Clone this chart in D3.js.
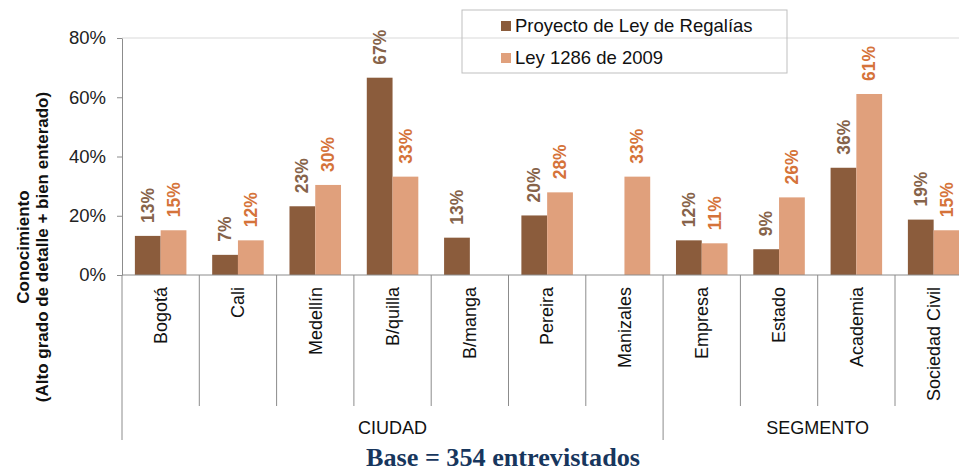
<!DOCTYPE html>
<html>
<head>
<meta charset="utf-8">
<script src="https://cdn.jsdelivr.net/npm/d3@7"></script>
<style>
    body { margin: 0; background: #fff; }
    svg { display: block; font-family: "Liberation Sans", Arial, sans-serif; }
</style>
</head>
<body>
<div class="vis-chart"></div>
<script>
// datos
const categories = ["Bogotá", "Cali", "Medellín", "B/quilla", "B/manga", "Pereira", "Manizales",
    "Empresa", "Estado", "Academia", "Sociedad Civil"];
const seriesNames = ["Proyecto de Ley de Regalías", "Ley 1286 de 2009"];
const proyecto = [13.2, 6.8, 23.2, 66.6, 12.6, 20.1, null, 11.7, 8.7, 36.2, 18.7];
const ley1286 = [15.1, 11.7, 30.4, 33.2, null, 27.9, 33.2, 10.7, 26.2, 61.1, 15.1];
const groups = [{ name: "CIUDAD", count: 7 }, { name: "SEGMENTO", count: 4 }];
const yTicks = [0, 20, 40, 60, 80];
const yTitle = ["Conocimiento", "(Alto grado de detalle + bien enterado)"];
const baseText = "Base = 354 entrevistados";

const width = 959;
const height = 472;
const margin = { top: 38, left: 122, bottom: 197 };
const step = 77.3;   // ancho de cada categoría
const barColors = ["#8b5c3c", "#e0a07c"];
const labelColors = ["#86634a", "#d5733a"];
const axisColor = "#8c8c8c";

const svg = d3.select(".vis-chart")
    .append("svg")
    .attr("width", width)
    .attr("height", height);

const x = d3.scaleBand()
    .domain(categories)
    .range([margin.left, margin.left + step * categories.length])
    .paddingInner(0);

const x1 = d3.scaleBand()
    .domain([0, 1])
    .range([0, x.bandwidth()])
    .paddingOuter(0.5)
    .paddingInner(0);

const y = d3.scaleLinear()
    .domain([0, 80])
    .range([height - margin.bottom, margin.top]);

const y0 = y(0);

// línea superior (80%)
svg.append("line")
    .attr("x1", margin.left)
    .attr("x2", width)
    .attr("y1", y(80))
    .attr("y2", y(80))
    .attr("stroke", "#d9d9d9")
    .attr("stroke-width", 1);

// eje y
const yAxis = svg.append("g")
    .attr("transform", "translate(" + margin.left + ",0)")
    .call(d3.axisLeft(y).tickValues(yTicks).tickFormat(d => d + "%").tickSize(5).tickSizeOuter(0));
yAxis.select(".domain").attr("stroke", axisColor);
yAxis.selectAll(".tick line").attr("stroke", axisColor);
yAxis.selectAll(".tick text")
    .attr("x", -16)
    .attr("font-size", 18.5)
    .attr("font-family", "Liberation Sans, Arial, sans-serif")
    .attr("fill", "#222");

// barras
const data = categories.map((c, i) => ({ cat: c, values: [proyecto[i], ley1286[i]] }));

const catG = svg.append("g")
    .selectAll("g")
    .data(data)
    .enter()
    .append("g")
    .attr("transform", d => "translate(" + x(d.cat) + ",0)");

catG.selectAll("rect")
    .data(d => d.values.map((v, s) => ({ v: v, s: s })).filter(e => e.v !== null))
    .enter()
    .append("rect")
    .attr("x", d => x1(d.s))
    .attr("y", d => y(d.v))
    .attr("width", x1.bandwidth())
    .attr("height", d => y0 - y(d.v))
    .attr("fill", d => barColors[d.s]);

// etiquetas de valores (rotadas)
catG.selectAll("text.valueText")
    .data(d => d.values.map((v, s) => ({ v: v, s: s })).filter(e => e.v !== null))
    .enter()
    .append("text")
    .attr("class", "valueText")
    .attr("transform", d => "translate(" + (x1(d.s) + x1.bandwidth() / 2) + "," + (y(d.v) - 13) + ") rotate(-90)")
    .attr("dy", "0.35em")
    .attr("text-anchor", "start")
    .attr("font-size", 17.5)
    .attr("font-weight", "bold")
    .attr("fill", d => labelColors[d.s])
    .text(d => Math.round(d.v) + "%");

// eje x
svg.append("line")
    .attr("x1", margin.left)
    .attr("x2", width)
    .attr("y1", y0)
    .attr("y2", y0)
    .attr("stroke", axisColor);

// separadores de categorías
let groupStarts = [];
let acc = 0;
groups.forEach(g => { groupStarts.push(acc); acc += g.count; });

categories.forEach((c, i) => {
    if (i === 0) return;
    const isGroupEdge = groupStarts.indexOf(i) >= 0;
    svg.append("line")
        .attr("x1", x(c))
        .attr("x2", x(c))
        .attr("y1", y0)
        .attr("y2", isGroupEdge ? 440 : 406)
        .attr("stroke", axisColor);
});
svg.append("line")
    .attr("x1", margin.left)
    .attr("x2", margin.left)
    .attr("y1", y0)
    .attr("y2", 440)
    .attr("stroke", axisColor);

// nombres de categorías
svg.append("g")
    .selectAll("text")
    .data(categories)
    .enter()
    .append("text")
    .attr("transform", d => "translate(" + (x(d) + x.bandwidth() / 2) + "," + (y0 + 12) + ") rotate(-90)")
    .attr("dy", "0.35em")
    .attr("text-anchor", "end")
    .attr("font-size", 18)
    .attr("fill", "#111")
    .text(d => d);

// nombres de grupos
groups.forEach((g, i) => {
    const first = categories[groupStarts[i]];
    const gx = x(first) + step * g.count / 2;
    svg.append("text")
        .attr("x", gx)
        .attr("y", 434)
        .attr("text-anchor", "middle")
        .attr("font-size", 18)
        .attr("fill", "#111")
        .text(g.name);
});

// título del eje y
const titleY = 247;
yTitle.forEach((t, i) => {
    svg.append("text")
        .attr("transform", "translate(" + (29 + i * 19) + "," + titleY + ") rotate(-90)")
        .attr("text-anchor", "middle")
        .attr("font-size", 17)
        .attr("font-weight", "bold")
        .attr("fill", "#111")
        .text(t);
});

// leyenda
const legend = svg.append("g");
legend.append("rect")
    .attr("x", 462)
    .attr("y", 10)
    .attr("width", 325)
    .attr("height", 63)
    .attr("fill", "none")
    .attr("stroke", "#bfbfbf");
seriesNames.forEach((s, i) => {
    legend.append("rect")
        .attr("x", 501)
        .attr("y", 21 + i * 32)
        .attr("width", 10)
        .attr("height", 10)
        .attr("fill", barColors[i]);
    legend.append("text")
        .attr("x", 515)
        .attr("y", 32 + i * 32)
        .attr("font-size", 18.5)
        .attr("fill", "#111")
        .text(s);
});

// base
svg.append("text")
    .attr("x", 503)
    .attr("y", 466)
    .attr("text-anchor", "middle")
    .attr("font-family", "Liberation Serif, 'Times New Roman', serif")
    .attr("font-weight", "bold")
    .attr("font-size", 25)
    .attr("fill", "#17365d")
    .attr("textLength", 274)
    .attr("lengthAdjust", "spacingAndGlyphs")
    .text(baseText);
</script>
</body>
</html>
